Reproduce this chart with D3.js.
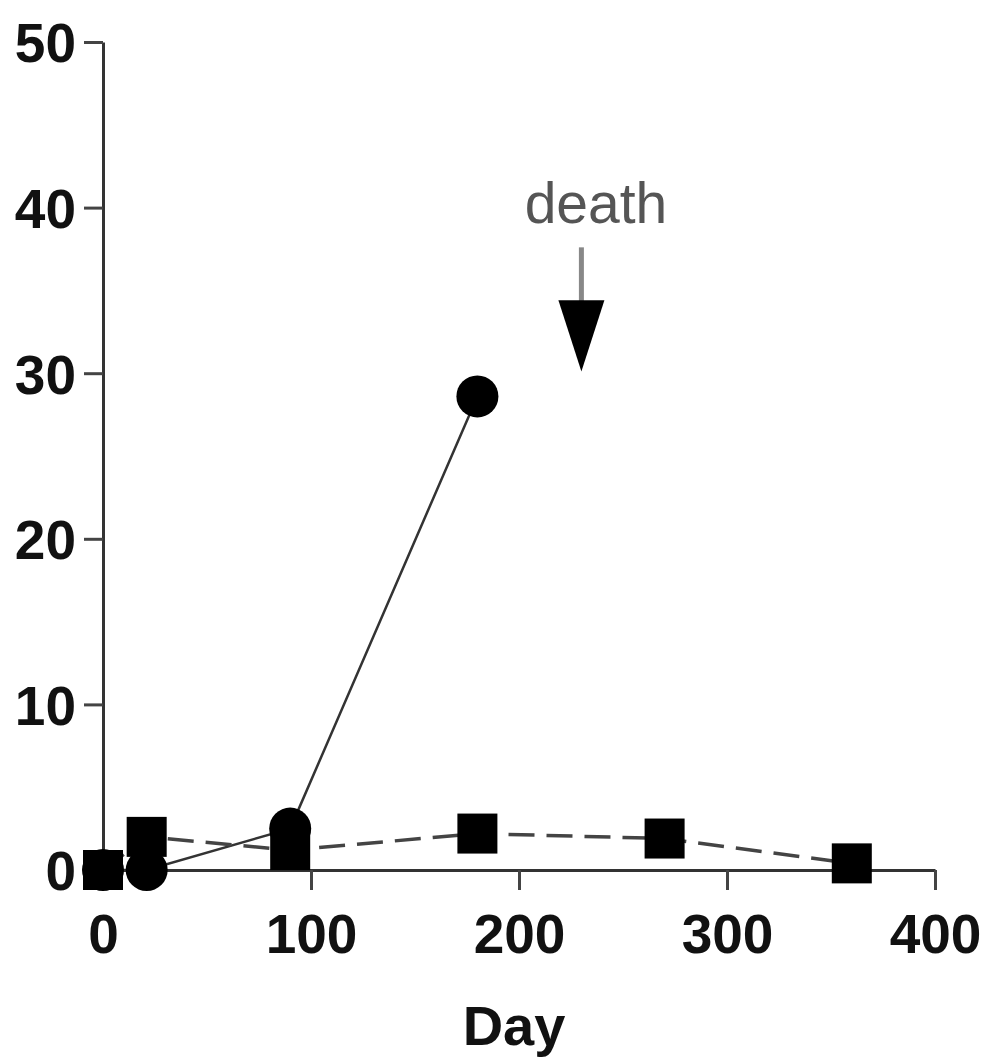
<!DOCTYPE html>
<html><head><meta charset="utf-8">
<script src="https://cdn.jsdelivr.net/npm/d3@7"></script>
<style>body{margin:0;background:#fff}svg{display:block}</style>
</head><body>
<svg id="c" width="985" height="1062"></svg>
<script>
const xTicks = [0, 100, 200, 300, 400];
const yTicks = [0, 10, 20, 30, 40, 50];
const squareDays = [0, 21, 90, 180, 270, 360];
const squareVals = [0, 2.0, 1.2, 2.2, 1.9, 0.4];
const circleDays = [0, 21, 90, 180];
const circleVals = [0, 0, 2.5, 28.6];
const deathDay = 230;
const deathLabel = "death";
const xLabel = "Day";

const svg = d3.select("#c");
const x = d3.scaleLinear().domain([0, 400]).range([103, 935]);
const y = d3.scaleLinear().domain([0, 50]).range([870, 42]);
const font = "'Liberation Sans', Arial, sans-serif";

// axes
const xa = svg.append("g").attr("transform", `translate(0,${y(0)})`)
  .call(d3.axisBottom(x).tickValues(xTicks).tickSize(20).tickPadding(22).tickSizeOuter(0));
const ya = svg.append("g").attr("transform", `translate(${x(0)},0)`)
  .call(d3.axisLeft(y).tickValues(yTicks).tickSize(19).tickPadding(8).tickSizeOuter(0));
[xa, ya].forEach(a => {
  a.select(".domain").attr("stroke", "#333").attr("stroke-width", 3);
  a.selectAll(".tick line").attr("stroke", "#444").attr("stroke-width", 3);
  a.selectAll(".tick text").attr("fill", "#111").style("font-family", font)
    .style("font-size", "55px").style("font-weight", "bold");
});
xa.selectAll(".tick text").attr("dy", "0.75em");
ya.selectAll(".tick text").attr("dy", "0.36em");

// lines
const sq = squareDays.map((d, i) => [d, squareVals[i]]);
const ci = circleDays.map((d, i) => [d, circleVals[i]]);
const line = d3.line().x(d => x(d[0])).y(d => y(d[1]));
svg.append("path").attr("d", line(ci)).attr("fill", "none").attr("stroke", "#333").attr("stroke-width", 2.5);
svg.append("path").attr("d", line(sq)).attr("fill", "none").attr("stroke", "#444").attr("stroke-width", 3.5)
  .attr("stroke-dasharray", "26,12");

// markers
const s = 40;
svg.selectAll("rect.sq").data(sq).join("rect").attr("class", "sq")
  .attr("x", d => x(d[0]) - s / 2).attr("y", d => y(d[1]) - s / 2)
  .attr("width", s).attr("height", s).attr("fill", "#000");
svg.selectAll("circle.ci").data(ci).join("circle").attr("class", "ci")
  .attr("cx", d => x(d[0])).attr("cy", d => y(d[1])).attr("r", 21).attr("fill", "#000");

// death annotation
const ax = x(deathDay);
svg.append("line").attr("x1", ax).attr("x2", ax).attr("y1", y(37.6)).attr("y2", y(34.2))
  .attr("stroke", "#888").attr("stroke-width", 5);
svg.append("path").attr("d", `M${ax - 23},${y(34.4)}L${ax + 23},${y(34.4)}L${ax},${y(30.1)}Z`).attr("fill", "#000");
svg.append("text").attr("x", x(deathDay + 7)).attr("y", y(39.1)).attr("text-anchor", "middle")
  .style("font-family", font).style("font-size", "57px").attr("fill", "#555").text(deathLabel);

// x label
svg.append("text").attr("x", (x(0) + x(400)) / 2 - 5).attr("y", 1045).attr("text-anchor", "middle")
  .style("font-family", font).style("font-size", "56px").style("font-weight", "bold").attr("fill", "#111").text(xLabel);
</script>
</body></html>
